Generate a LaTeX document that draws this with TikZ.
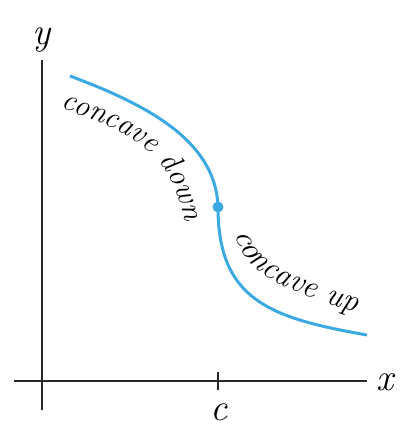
\documentclass[tikz,border=0pt]{standalone}
\usetikzlibrary{decorations.text}
\definecolor{curveblue}{RGB}{59,170,226}
\definecolor{axisgray}{RGB}{40,40,40}
\tikzset{
  axis/.style={draw=axisgray, line width=2pt},
  curve/.style={draw=curveblue, line width=3pt},
  lbl/.style={font=\itshape\fontsize{38}{38}\selectfont, inner sep=0pt},
}
\begin{document}
\begin{tikzpicture}[x=1pt,y=-1pt]
\useasboundingbox (0,0) rectangle (404,424);
% axes
\coordinate (ytop) at (42,60);
\coordinate (ybot) at (42,410);
\coordinate (xl) at (14,381);
\coordinate (xr) at (367,381);
\coordinate (tt) at (218,372);
\coordinate (tb) at (218,390);
\draw[axis] (ybot) -- (ytop);
\draw[axis] (xl) -- (xr);
\draw[axis] (tt) -- (tb);
\node[lbl] (ylab) at (42,40) {y};
\node[lbl] (xlab) at (385,382) {x};
\node[lbl] (clab) at (219,412) {c};
% curve
\coordinate (s) at (70,76);
\coordinate (e) at (367,335);
\node[circle, fill=curveblue, inner sep=0pt, minimum size=11pt] (p) at (218,207) {};
\draw[curve] (s) .. controls (145,104) and (216,140) .. (p.center)
  .. controls (218,300) and (270,318) .. (e);
% labels along the curve
\path[decorate, decoration={text along path,
  text={|\itshape\fontsize{30.5}{30.5}\selectfont|concave down}}]
  (60,108) .. controls (130,132) and (180,150) .. (188,245);
\path[decorate, decoration={text along path,
  text={|\itshape\fontsize{32}{32}\selectfont|concave up},
  text align={left indent=5pt}}]
  (236,228) .. controls (237,275) and (290,292) .. (380,320);
\end{tikzpicture}
\end{document}
